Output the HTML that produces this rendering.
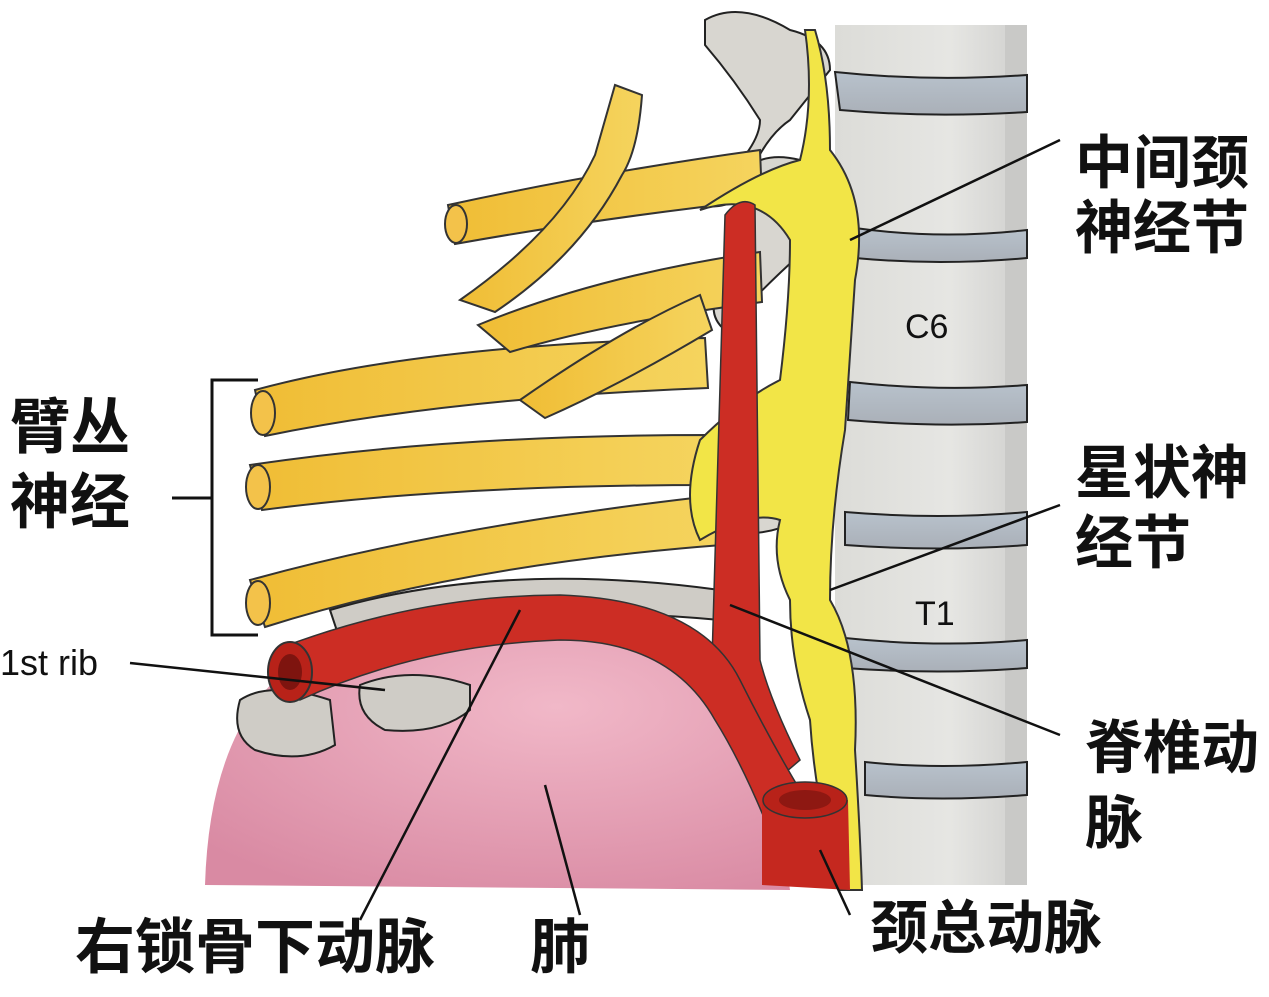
<!DOCTYPE html>
<html><head><meta charset="utf-8"><style>
html,body{margin:0;padding:0;background:#fff;}
svg{display:block}
text{font-family:"Liberation Sans","Noto Sans CJK SC",sans-serif;}
.cjk{font-family:"Noto Sans CJK SC","WenQuanYi Zen Hei",sans-serif;font-weight:bold;fill:#111;}
</style></head><body>
<svg width="1269" height="997" viewBox="0 0 1269 997" xmlns="http://www.w3.org/2000/svg">
<defs>
<linearGradient id="spine" x1="0" x2="1"><stop offset="0" stop-color="#dcdcd8"/><stop offset="0.6" stop-color="#e6e6e3"/><stop offset="1" stop-color="#cfcfcd"/></linearGradient>
<linearGradient id="disc" x1="0" x2="0" y1="0" y2="1"><stop offset="0" stop-color="#b8c2cc"/><stop offset="1" stop-color="#aab0b8"/></linearGradient>
<linearGradient id="nerve" x1="0" x2="1"><stop offset="0" stop-color="#f0bd35"/><stop offset="1" stop-color="#f5d45e"/></linearGradient>
<radialGradient id="lung" cx="0.6" cy="0.3" r="0.8"><stop offset="0" stop-color="#f1b8c8"/><stop offset="1" stop-color="#d98aa3"/></radialGradient>
</defs>
<!-- spine -->
<rect x="835" y="25" width="192" height="860" fill="url(#spine)"/>
<rect x="1005" y="25" width="22" height="860" fill="#c9c9c7"/>
<g stroke="#222" stroke-width="2" fill="url(#disc)">
<path d="M835 72 Q930 82 1027 75 L1027 112 Q930 118 840 110 Z"/>
<path d="M855 228 Q940 240 1027 230 L1027 258 Q940 266 855 258 Z"/>
<path d="M850 382 Q940 392 1027 385 L1027 422 Q940 428 848 420 Z"/>
<path d="M845 512 Q940 520 1027 512 L1027 545 Q940 552 845 545 Z"/>
<path d="M845 638 Q940 648 1027 640 L1027 668 Q940 675 845 668 Z"/>
<path d="M865 762 Q940 770 1027 762 L1027 795 Q940 802 865 795 Z"/>
</g>
<text x="905" y="338" font-size="34" fill="#111">C6</text>
<text x="915" y="625" font-size="34" fill="#111">T1</text>
<!-- lung -->
<path d="M205 885 Q210 720 300 660 Q420 620 560 630 Q700 645 760 700 L790 890 Z" fill="url(#lung)"/>
<!-- transverse processes -->
<g fill="#d8d6d0" stroke="#222" stroke-width="2">
<path d="M705 20 Q740 0 790 30 Q830 40 830 70 L790 120 Q760 140 740 200 Q700 215 705 195 Q760 150 760 120 Q735 80 705 45 Z"/>
<path d="M740 175 Q760 150 800 160 L805 250 Q760 290 725 330 Q700 310 730 270 Z"/>
<path d="M700 470 Q740 430 790 440 L800 520 Q760 540 720 530 Z"/>
<path d="M790 460 L820 465 L825 520 L795 515 Z"/>
</g>
<!-- ribs -->
<g fill="#cfccc6" stroke="#222" stroke-width="2">
<path d="M330 610 Q500 560 720 590 L720 620 Q500 600 340 640 Z"/>
<path d="M240 700 Q270 680 330 700 L335 745 Q300 765 255 750 Q230 735 240 700 Z"/>
<path d="M360 685 Q410 665 470 685 L470 710 Q440 735 385 730 Q355 715 360 685 Z"/>
</g>
<!-- nerves -->
<g stroke="#333" stroke-width="2" fill="url(#nerve)">
<path d="M255 390 Q420 345 705 338 L708 388 Q450 398 265 436 Z"/>
<path d="M250 465 Q450 435 710 435 L712 485 Q450 485 262 510 Z"/>
<path d="M250 580 Q450 525 720 495 L722 545 Q460 565 265 627 Z"/>
<path d="M448 205 Q600 172 760 150 L762 200 Q600 218 455 244 Z"/>
<path d="M460 300 Q560 230 595 155 Q605 120 615 85 L642 95 Q638 150 622 175 Q580 255 495 312 Z"/>
<path d="M478 325 Q600 275 760 252 L762 302 Q610 322 510 352 Z"/>
<path d="M520 400 Q620 330 700 295 L712 330 Q620 385 545 418 Z"/>
</g>
<g fill="#f3c24a" stroke="#333" stroke-width="2">
<ellipse cx="456" cy="224" rx="11" ry="19"/>
<ellipse cx="263" cy="413" rx="12" ry="22"/>
<ellipse cx="258" cy="487" rx="12" ry="22"/>
<ellipse cx="258" cy="603" rx="12" ry="22"/>
</g>
<!-- sympathetic trunk -->
<path d="M815 30 Q830 80 830 150 Q870 200 855 280 Q850 360 845 430 Q830 520 830 600 Q860 650 855 750 Q860 830 862 890 L840 890 Q815 800 810 720 Q790 660 790 600 Q770 560 780 520 Q750 510 700 540 Q680 500 700 440 Q740 400 780 380 Q790 300 790 240 Q760 190 700 210 Q760 170 800 160 Q815 100 805 30 Z" fill="#f2e547" stroke="#333" stroke-width="2"/>
<!-- arteries -->
<path d="M725 215 Q740 195 755 205 L760 660 Q770 700 800 760 L765 790 Q730 730 722 690 L712 660 Z" fill="#cc2d24" stroke="#333" stroke-width="1.5"/>
<path d="M280 648 Q420 595 560 595 Q700 600 740 680 Q770 740 800 790 L765 820 Q740 760 715 720 Q670 640 560 640 Q420 645 300 700 Z" fill="#cc2d24" stroke="#333" stroke-width="1.5"/>
<path d="M762 800 L762 885 L850 890 L848 800 Z" fill="#c5281f"/>
<ellipse cx="805" cy="800" rx="42" ry="18" fill="#b82219" stroke="#333" stroke-width="1.5"/>
<ellipse cx="805" cy="800" rx="26" ry="10" fill="#8e1812"/>
<ellipse cx="290" cy="672" rx="22" ry="30" fill="#b82219" stroke="#333" stroke-width="2"/>
<ellipse cx="290" cy="672" rx="12" ry="18" fill="#7e140f"/>
<!-- bracket -->
<path d="M258 380 L212 380 L212 635 L258 635" fill="none" stroke="#111" stroke-width="3"/>
<line x1="172" y1="498" x2="212" y2="498" stroke="#111" stroke-width="3"/>
<!-- leader lines -->
<g stroke="#111" stroke-width="2.5">
<line x1="850" y1="240" x2="1060" y2="140"/>
<line x1="830" y1="590" x2="1060" y2="505"/>
<line x1="730" y1="605" x2="1060" y2="735"/>
<line x1="130" y1="663" x2="385" y2="690"/>
<line x1="520" y1="610" x2="360" y2="920"/>
<line x1="545" y1="785" x2="580" y2="915"/>
<line x1="820" y1="850" x2="850" y2="915"/>
</g>
<!-- labels -->
<g class="cjk" font-size="58">
<text x="1075" y="183" class="cjk">中间颈</text>
<text x="1075" y="248" class="cjk">神经节</text>
<text x="1075" y="493" class="cjk">星状神</text>
<text x="1075" y="563" class="cjk">经节</text>
<text x="1085" y="768" class="cjk">脊椎动</text>
<text x="1085" y="843" class="cjk">脉</text>
<text x="10" y="448" class="cjk" font-size="60">臂丛</text>
<text x="10" y="523" class="cjk" font-size="60">神经</text>
<text x="75" y="968" class="cjk" font-size="60">右锁骨下动脉</text>
<text x="530" y="968" class="cjk" font-size="60">肺</text>
<text x="870" y="948" class="cjk">颈总动脉</text>
</g>
<text x="0" y="675" font-size="36" fill="#111">1st rib</text>
</svg>
</body></html>
